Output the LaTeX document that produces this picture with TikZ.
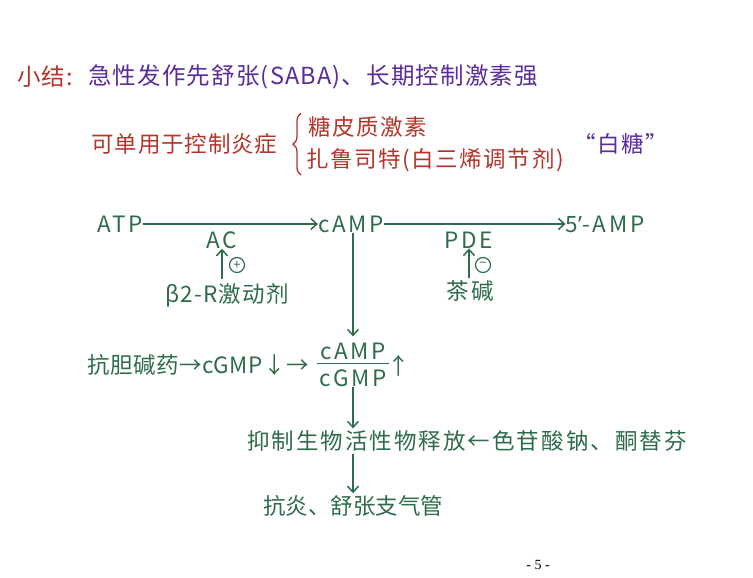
\documentclass[tikz,border=0pt]{standalone}
\usepackage{fontspec}
\setmainfont{Noto Sans CJK SC}
\newfontfamily\pagefont{Liberation Serif}
\newfontfamily\widefont[LetterSpace=12]{Noto Sans CJK SC}
\newfontfamily\rowfont[LetterSpace=9]{Noto Sans CJK SC}
\newfontfamily\betafont[LetterSpace=5]{Noto Sans CJK SC}
\newfontfamily\tightfont[LetterSpace=2]{Noto Sans CJK SC}
\newfontfamily\midfont[LetterSpace=7]{Noto Sans CJK SC}
\newfontfamily\redfont[LetterSpace=4]{Noto Sans CJK SC}
\newfontfamily\ttlfont[LetterSpace=5]{Noto Sans CJK SC}
\newfontfamily\latfont{Noto Sans}
\usetikzlibrary{decorations.pathreplacing,calc,arrows.meta}
\definecolor{cred}{HTML}{B3352B}
\definecolor{cpur}{HTML}{5A2C9C}
\definecolor{cgrn}{HTML}{2E6C4B}
\begin{document}
\begin{tikzpicture}[x=1pt,y=-1pt,
  txt/.style={inner sep=0pt},
  ttl/.style={txt,font=\ttlfont\fontsize{23.5}{28}\selectfont},
  rtxt/.style={txt,text=cred,font=\midfont\fontsize{22.5}{26}\selectfont},
  gtxt/.style={txt,text=cgrn,font=\widefont\fontsize{22.5}{26}\selectfont},
  conn/.style={draw=cgrn,line width=1.5pt,-{Straight Barb[length=6pt,width=11pt,line width=1.5pt]}},
  sgn/.style={draw=cgrn,line width=1.2pt,circle,inner sep=0pt,minimum size=15pt,text=cgrn,font=\fontsize{13}{13}\selectfont}]
\useasboundingbox[fill=white] (0,0) rectangle (753,578);
% title
\node[ttl,anchor=west,text=cred] (xj) at (17,77) {小结:};
\node[ttl,anchor=west,text=cpur] (title) at (88,77) {急性发作先舒张(SABA)、长期控制激素强};
% line 2
\node[rtxt,anchor=west,font=\redfont\fontsize{22.5}{26}\selectfont] (kd) at (91,144) {可单用于控制炎症};
\node[rtxt,anchor=west] (t1) at (308,127) {糖皮质激素};
\node[rtxt,anchor=west] (t2) at (306,160) {扎鲁司特(白三烯调节剂)};
\draw[cred,line width=1.3pt,decorate,decoration={brace,amplitude=8pt}]
  ($(t2.south west)+(-5,3)$) -- ($(t1.north west)+(-7,-3)$);
\node[rtxt,text=cpur] (bt) at (621,144) {“白糖”};
% pathway
\node[gtxt] (atp) at (120,224) {ATP};
\node[gtxt] (camp) at (351,224) {cAMP};
\node[gtxt] (amp5) at (605,224) {5{\latfont\fontsize{22.5}{26}\selectfont ’}-AMP};
\draw[conn] (atp) -- (camp);
\draw[conn] (camp) -- (amp5);
\node[gtxt] (ac) at (222,240) {AC};
\node[gtxt,font=\betafont\fontsize{22.5}{26}\selectfont] (beta) at (227,295) {β2-R激动剂};
\draw[conn] (ac.south |- beta.north) ++(0,-4) -- (ac.south);
\node[sgn] (plus) at (237,265) {+};
\node[gtxt] (pde) at (469,240) {PDE};
\node[gtxt] (cj) at (470,291) {茶碱};
\draw[conn] (pde.south |- cj.north) ++(0,-2) -- (pde.south);
\node[sgn] (minus) at (483,265) {−};
% ratio
\node[gtxt] (num) at (353,351) {cAMP};
\node[gtxt] (den) at (353,378) {cGMP};
\draw[cgrn,line width=1.4pt] ($(num.south west)+(-3,4)$) -- ($(num.south east)+(3,4)$);
\node[gtxt] (up) at (399,366) {↑};
\draw[conn] (camp.south -| num.north) -- ($(num.north)+(0,-6)$);
\node[gtxt,anchor=east,font=\tightfont\fontsize{22.5}{26}\selectfont] (kdj) at (309,365) {抗胆碱药→cGMP↓→};
% bottom
\node[gtxt,anchor=west,font=\rowfont\fontsize{22.5}{26}\selectfont] (yz) at (247,441) {抑制生物活性物释放←色苷酸钠、酮替芬};
\draw[conn] (den.south) -- ($(den |- yz.north)+(0,-2)$);
\node[gtxt,anchor=west,font=\fontsize{22.5}{26}\selectfont] (ky) at (263,506) {抗炎、舒张支气管};
\draw[conn] (den |- yz.south) ++(0,2) -- ($(den |- ky.north)+(0,-2)$);
\node[inner sep=0pt,font=\pagefont\fontsize{14}{16}\selectfont] (pg) at (538,565) {- 5 -};
\end{tikzpicture}
\end{document}
